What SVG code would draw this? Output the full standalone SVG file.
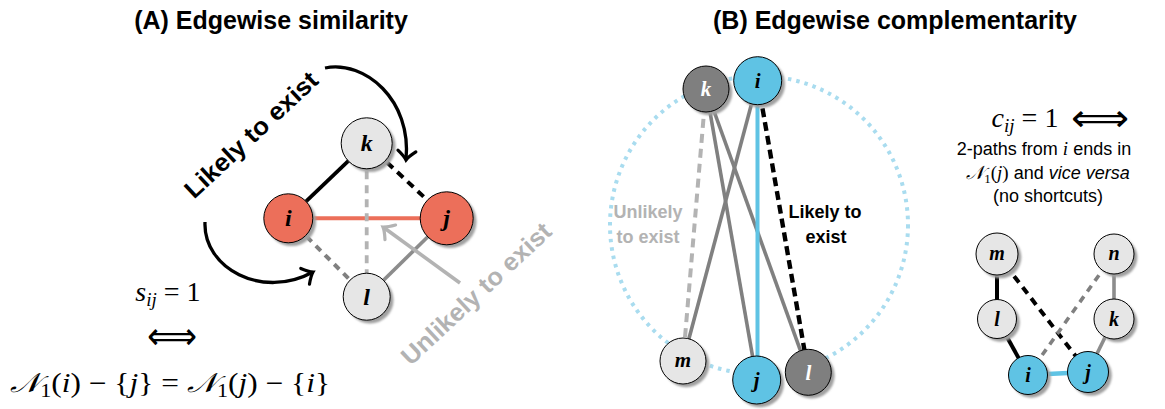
<svg xmlns="http://www.w3.org/2000/svg" width="1165" height="409" viewBox="0 0 1165 409">
<defs>
<style>
.title{font-family:"Liberation Sans",Arial,sans-serif;font-weight:bold;font-size:25px;fill:#000;text-anchor:middle}
.blbl{font-family:"Liberation Sans",Arial,sans-serif;font-weight:bold;font-size:25px;text-anchor:middle}
.slbl{font-family:"Liberation Sans",Arial,sans-serif;font-weight:bold;font-size:18px;text-anchor:middle}
.lbl{font-family:"Liberation Serif","Times New Roman",serif;font-weight:bold;font-style:italic;text-anchor:middle;fill:#000}
.math{font-family:"Liberation Serif","Times New Roman",serif;fill:#000}
.sym{font-family:"DejaVu Sans",sans-serif;fill:#000;text-anchor:middle}
.txt{font-family:"Liberation Sans",Arial,sans-serif;font-size:18px;fill:#000;text-anchor:middle}
.it{font-style:italic}
.nd{stroke:#000;stroke-width:1}
.sh{fill:#a0a0a0;filter:url(#blur)}
.red{fill:#EC6F5A}
.lg{fill:#E6E6E6}
.blue{fill:#5FC3E4}
.dg{fill:#7F7F7F}
.e{fill:none;stroke-linecap:butt}
</style>
<filter id="blur" x="-30%" y="-30%" width="160%" height="160%"><feGaussianBlur stdDeviation="1"/></filter>
<marker id="ahb" markerUnits="userSpaceOnUse" markerWidth="26" markerHeight="26" refX="13" refY="13" orient="auto" viewBox="0 0 26 26">
<path d="M4,4 C8,9 10.5,11.5 13,13 C10.5,14.5 8,17 4,22" fill="none" stroke="#000" stroke-width="3.2" stroke-linecap="round"/>
</marker>
<marker id="ahg" markerUnits="userSpaceOnUse" markerWidth="26" markerHeight="26" refX="13" refY="13" orient="auto" viewBox="0 0 26 26">
<path d="M4,4 C8,9 10.5,11.5 13,13 C10.5,14.5 8,17 4,22" fill="none" stroke="#B3B3B3" stroke-width="3.2" stroke-linecap="round"/>
</marker>
</defs>
<rect width="1165" height="409" fill="#fff"/>

<text class="title" x="271" y="29">(A) Edgewise similarity</text>
<text class="title" x="895" y="29">(B) Edgewise complementarity</text>

<g id="connectors">
<!-- panel A -->
<path class="e" d="M366.7,143.3 L288.3,218.3" stroke="#000" stroke-width="3.8"/>
<path class="e" d="M366.7,143.3 L446.7,218.3" stroke="#000" stroke-width="4" stroke-dasharray="8 6"/>
<path class="e" d="M288.3,218.3 L446.7,218.3" stroke="#EC6F5A" stroke-width="4"/>
<path class="e" d="M366.7,143.3 L366.7,296.7" stroke="#B3B3B3" stroke-width="3.8" stroke-dasharray="8 6"/>
<path class="e" d="M288.3,218.3 L366.7,296.7" stroke="#808080" stroke-width="4" stroke-dasharray="7 6"/>
<path class="e" d="M446.7,218.3 L366.7,296.7" stroke="#8C8C8C" stroke-width="3.6"/>
<path class="e" d="M325,68 C365,60 412,100 406,160" stroke="#000" stroke-width="3.3" marker-end="url(#ahb)"/>
<path class="e" d="M205,222 C203,268 262,300 313,272" stroke="#000" stroke-width="3.3" marker-end="url(#ahb)"/>
<path class="e" d="M460,283 L383,227" stroke="#B3B3B3" stroke-width="3.6" marker-end="url(#ahg)"/>
<!-- panel B -->
<circle cx="759" cy="225" r="149" fill="none" stroke="#A9DCEF" stroke-width="4" stroke-dasharray="3.5 5"/>
<path class="e" d="M706,89 L683,361" stroke="#B3B3B3" stroke-width="4" stroke-dasharray="9 6"/>
<path class="e" d="M757.7,80.7 L683,361" stroke="#808080" stroke-width="3.6"/>
<path class="e" d="M706,89 L756.7,380" stroke="#808080" stroke-width="3.6"/>
<path class="e" d="M706,89 L808.3,372.3" stroke="#808080" stroke-width="3.6"/>
<path class="e" d="M757.5,81 L757.5,380" stroke="#5FC3E4" stroke-width="4"/>
<path class="e" d="M757.7,80.7 L808.3,372.3" stroke="#000" stroke-width="4.4" stroke-dasharray="9 5"/>
<!-- small graph -->
<path class="e" d="M997,254 L997,319" stroke="#000" stroke-width="4"/>
<path class="e" d="M997,319 L1028,375" stroke="#000" stroke-width="4"/>
<path class="e" d="M997,254 L1088,372" stroke="#000" stroke-width="4" stroke-dasharray="8 6"/>
<path class="e" d="M1114,254 L1028,375" stroke="#808080" stroke-width="3.6" stroke-dasharray="7 6"/>
<path class="e" d="M1114,254 L1114,319" stroke="#8C8C8C" stroke-width="3.6"/>
<path class="e" d="M1114,319 L1088,372" stroke="#8C8C8C" stroke-width="3.6"/>
<path class="e" d="M1028,375 L1088,372" stroke="#5FC3E4" stroke-width="4.5"/>
</g>

<!-- Panel A nodes -->
<g id="A-k"><circle class="sh" cx="370" cy="146.6" r="25.5"/><circle class="nd lg" cx="366.7" cy="143.3" r="25.5"/><text class="lbl" x="366.7" y="151" font-size="24">k</text></g>
<g id="A-i"><circle class="sh" cx="291.6" cy="221.6" r="24.5"/><circle class="nd red" cx="288.3" cy="218.3" r="24.5"/><text class="lbl" x="288.3" y="226" font-size="24">i</text></g>
<g id="A-j"><circle class="sh" cx="450" cy="221.6" r="26.5"/><circle class="nd red" cx="446.7" cy="218.3" r="26.5"/><text class="lbl" x="446.7" y="226" font-size="24">j</text></g>
<g id="A-l"><circle class="sh" cx="370" cy="300" r="23.5"/><circle class="nd lg" cx="366.7" cy="296.7" r="23.5"/><text class="lbl" x="366.7" y="305" font-size="24">l</text></g>

<!-- Panel A labels -->
<text class="blbl" fill="#000" transform="translate(257,141) rotate(-43)" textLength="172" lengthAdjust="spacingAndGlyphs">Likely to exist</text>
<text class="blbl" fill="#B3B3B3" transform="translate(482,300) rotate(-43)" textLength="195" lengthAdjust="spacingAndGlyphs">Unlikely to exist</text>

<text class="math" x="168" y="301" font-size="28" text-anchor="middle"><tspan class="it">s</tspan><tspan class="it" font-size="19" dy="5">ij</tspan><tspan dy="-5"> = 1</tspan></text>
<text class="sym" x="172" y="349" font-size="38" textLength="50" lengthAdjust="spacingAndGlyphs">⟺</text>
<text class="math" x="170" y="392" font-size="27" text-anchor="middle" textLength="320" lengthAdjust="spacingAndGlyphs"><tspan class="it">𝒩</tspan><tspan font-size="19" dy="5">1</tspan><tspan dy="-5">(</tspan><tspan class="it">i</tspan><tspan>) − {</tspan><tspan class="it">j</tspan><tspan>} = </tspan><tspan class="it">𝒩</tspan><tspan font-size="19" dy="5">1</tspan><tspan dy="-5">(</tspan><tspan class="it">j</tspan><tspan>) − {</tspan><tspan class="it">i</tspan><tspan>}</tspan></text>

<!-- Panel B nodes -->
<g id="B-k"><circle class="sh" cx="709.3" cy="92.3" r="23"/><circle class="nd dg" cx="706" cy="89" r="23"/><text class="lbl" x="706" y="96" font-size="21" style="fill:#fff">k</text></g>
<g id="B-i"><circle class="sh" cx="761" cy="84" r="24"/><circle class="nd blue" cx="757.7" cy="80.7" r="24"/><text class="lbl" x="757.7" y="88" font-size="21">i</text></g>
<g id="B-m"><circle class="sh" cx="686.3" cy="364.3" r="23"/><circle class="nd lg" cx="683" cy="361" r="23"/><text class="lbl" x="683" y="367" font-size="21">m</text></g>
<g id="B-j"><circle class="sh" cx="760" cy="383.3" r="24"/><circle class="nd blue" cx="756.7" cy="380" r="24"/><text class="lbl" x="756.7" y="387" font-size="21">j</text></g>
<g id="B-l"><circle class="sh" cx="811.6" cy="375.6" r="23"/><circle class="nd dg" cx="808.3" cy="372.3" r="23"/><text class="lbl" x="808.3" y="380" font-size="21" style="fill:#fff">l</text></g>

<text class="slbl" fill="#B3B3B3" x="648" y="218">Unlikely</text>
<text class="slbl" fill="#B3B3B3" x="648" y="243">to exist</text>
<text class="slbl" fill="#000" x="825" y="218">Likely to</text>
<text class="slbl" fill="#000" x="826" y="243">exist</text>

<!-- Right text -->
<text class="math" x="1025" y="127" font-size="28" text-anchor="middle"><tspan class="it">c</tspan><tspan class="it" font-size="19" dy="5">ij</tspan><tspan dy="-5"> = 1</tspan></text>
<text class="sym" x="1100" y="131" font-size="38" textLength="58" lengthAdjust="spacingAndGlyphs">⟺</text>
<text class="txt" x="1044" y="155">2-paths from <tspan class="math it" font-size="19">i</tspan> ends in</text>
<text class="txt" x="1048" y="179"><tspan class="math" font-size="19"><tspan class="it">𝒩</tspan><tspan font-size="13" dy="4">1</tspan><tspan dy="-4">(</tspan><tspan class="it">j</tspan>)</tspan> and <tspan class="it">vice versa</tspan></text>
<text class="txt" x="1048" y="202">(no shortcuts)</text>

<!-- small graph nodes -->
<g id="C-m"><circle class="sh" cx="1000.3" cy="257.3" r="21"/><circle class="nd lg" cx="997" cy="254" r="21"/><text class="lbl" x="997" y="260" font-size="20">m</text></g>
<g id="C-n"><circle class="sh" cx="1117.3" cy="257.3" r="20"/><circle class="nd lg" cx="1114" cy="254" r="20"/><text class="lbl" x="1114" y="260" font-size="20">n</text></g>
<g id="C-l"><circle class="sh" cx="1000.3" cy="322.3" r="19.5"/><circle class="nd lg" cx="997" cy="319" r="19.5"/><text class="lbl" x="997" y="326" font-size="20">l</text></g>
<g id="C-k"><circle class="sh" cx="1117.3" cy="322.3" r="20"/><circle class="nd lg" cx="1114" cy="319" r="20"/><text class="lbl" x="1114" y="326" font-size="20">k</text></g>
<g id="C-i"><circle class="sh" cx="1031.3" cy="378.3" r="19.5"/><circle class="nd blue" cx="1028" cy="375" r="19.5"/><text class="lbl" x="1028" y="382" font-size="20">i</text></g>
<g id="C-j"><circle class="sh" cx="1091.3" cy="375.3" r="20.5"/><circle class="nd blue" cx="1088" cy="372" r="20.5"/><text class="lbl" x="1088" y="379" font-size="20">j</text></g>
</svg>
